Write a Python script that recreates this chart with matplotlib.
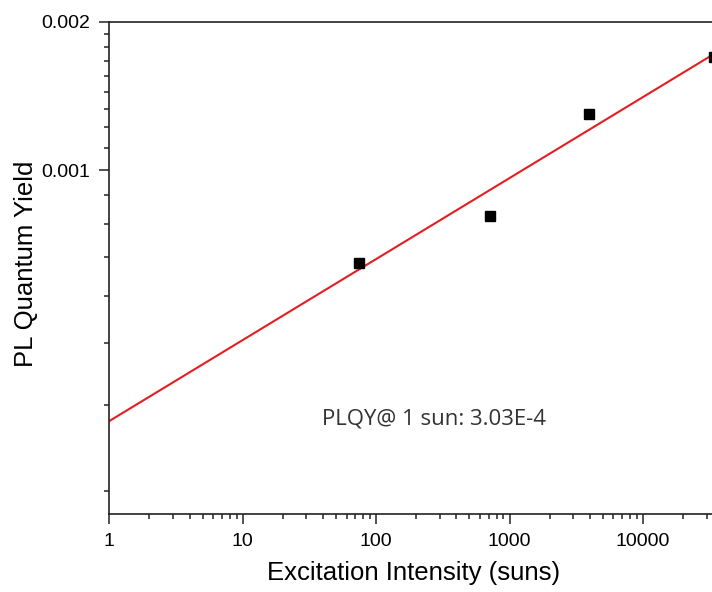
import matplotlib
matplotlib.use("Agg")
import matplotlib.pyplot as plt
from matplotlib.ticker import FixedLocator, NullFormatter, FixedFormatter

# Data
intensity = [74.2, 718, 3926, 33980]          # suns
plqy = [6.47e-4, 8.05e-4, 1.301e-3, 1.698e-3]  # PL quantum yield

# Fitted line (log-log), endpoints
fit_x = [1, 60000]
fit_y = [3.09e-4, 1.89e-3]

annotation = "PLQY@ 1 sun: 3.03E-4"
xlabel = "Excitation Intensity (suns)"
ylabel = "PL Quantum Yield"

x_major = [1, 10, 100, 1000, 10000]
x_major_labels = ["1", "10", "100", "1000", "10000"]
y_major = [0.001, 0.002]
y_major_labels = ["0.001", "0.002"]

W, H = 712, 592
fig = plt.figure(figsize=(W / 100, H / 100), dpi=100)

left_px, right_px, top_px, bottom_px = 109.3, 740, 22, 514
ax = fig.add_axes([left_px / W, (H - bottom_px) / H,
                   (right_px - left_px) / W, (bottom_px - top_px) / H])

ax.set_xscale("log")
ax.set_yscale("log")
decade_px = 133.4
ax.set_xlim(1, 10 ** ((right_px - left_px) / decade_px))
ax.set_ylim(0.0002, 0.002)

ax.plot(fit_x, fit_y, color="#e41e20", lw=1.5, zorder=2)
ax.plot(intensity, plqy, ls="none", marker="s", ms=7.6, color="black",
        zorder=3, clip_on=False)

# ticks
ax.xaxis.set_major_locator(FixedLocator(x_major))
ax.xaxis.set_major_formatter(FixedFormatter(x_major_labels))
xminor = [m * 10 ** e for e in range(0, 5) for m in range(2, 10)]
ax.xaxis.set_minor_locator(FixedLocator(xminor))
ax.xaxis.set_minor_formatter(NullFormatter())

ax.yaxis.set_major_locator(FixedLocator(y_major))
ax.yaxis.set_major_formatter(FixedFormatter(y_major_labels))
step = 0.001 / 9
yminor = [0.001 + k * step for k in range(1, 9)] + [0.001 - k * step for k in range(1, 8)]
ax.yaxis.set_minor_locator(FixedLocator(yminor))
ax.yaxis.set_minor_formatter(NullFormatter())

ax.tick_params(which="major", direction="out", length=7, width=1.1,
               labelsize=14, color="#222222")
ax.tick_params(axis="x", which="major", pad=7)
ax.tick_params(axis="y", which="major", pad=7)
ax.tick_params(which="minor", direction="out", length=3.5, width=1.1,
               color="#222222")
for lab in ax.get_xticklabels() + ax.get_yticklabels():
    lab.set_fontfamily("Liberation Sans")

for s in ["left", "bottom", "top"]:
    ax.spines[s].set_linewidth(1.2)
    ax.spines[s].set_color("#222222")
ax.spines["right"].set_visible(False)

fig.text(414 / W, 1 - 580 / H, xlabel, fontsize=18.5, family="Liberation Sans",
         ha="center", va="baseline")
fig.text(33 / W, 1 - 264 / H, ylabel, fontsize=18.5, family="Liberation Sans",
         ha="center", va="baseline", rotation=90, rotation_mode="anchor")

fig.text(434 / W, 1 - 425 / H, annotation, fontsize=16, family="Open Sans",
         color="#333333", ha="center", va="baseline")

fig.savefig("out.png", dpi=100)
